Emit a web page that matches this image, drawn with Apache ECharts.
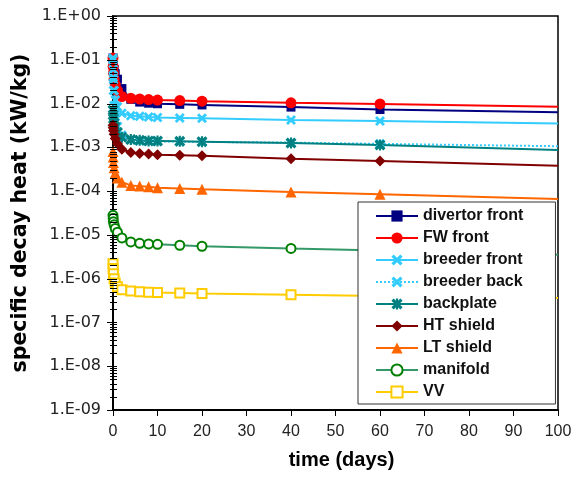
<!DOCTYPE html>
<html>
<head>
<meta charset="utf-8">
<script src="https://cdn.jsdelivr.net/npm/echarts@6/dist/echarts.min.js"></script>
<style>
html,body{margin:0;padding:0;background:#fff;}
#chart{width:585px;height:480px;}
</style>
</head>
<body>
<div id="chart"></div>
<script>
// ---- data (time in days, specific decay heat in kW/kg) ----
var times = [0, 0.04, 0.1, 0.25, 0.5, 1, 2, 4, 6, 8, 10, 15, 20, 40, 60, 100];
var divertorFront = [0.11, 0.09, 0.075, 0.06, 0.048, 0.036, 0.022, 0.0125, 0.0108, 0.0102, 0.0099, 0.0096, 0.0093, 0.0083, 0.0073, 0.0063];
var fwFront = [0.11, 0.07, 0.05, 0.036, 0.027, 0.02, 0.0145, 0.0132, 0.0127, 0.0123, 0.012, 0.0117, 0.0113, 0.0104, 0.0098, 0.0084];
var breederFront = [0.11, 0.06, 0.035, 0.02, 0.012, 0.0085, 0.006, 0.0053, 0.0051, 0.0049, 0.0048, 0.0047, 0.0046, 0.0042, 0.004, 0.0035];
var breederBack = [0.1, 0.04, 0.02, 0.009, 0.005, 0.003, 0.0019, 0.0015, 0.0014, 0.00138, 0.00136, 0.00135, 0.00133, 0.00128, 0.0012, 0.00106];
var backplate = [0.007, 0.0055, 0.0045, 0.0036, 0.0029, 0.0022, 0.0017, 0.0015, 0.00145, 0.0014, 0.0014, 0.00138, 0.00135, 0.00125, 0.00113, 0.00087];
var htShield = [0.0032, 0.0028, 0.0024, 0.002, 0.0016, 0.0012, 0.0009, 0.00076, 0.00072, 0.0007, 0.00068, 0.00066, 0.00064, 0.00055, 0.00049, 0.00038];
var ltShield = [0.0008, 0.0006, 0.00045, 0.00034, 0.00026, 0.0002, 0.00016, 0.000135, 0.00013, 0.000125, 0.00012, 0.000115, 0.00011, 0.000095, 0.000085, 0.000066];
var manifold = [2.8e-5, 2.4e-5, 2.0e-5, 1.7e-5, 1.4e-5, 1.15e-5, 8.5e-6, 6.9e-6, 6.4e-6, 6.2e-6, 6.1e-6, 5.8e-6, 5.5e-6, 4.9e-6, 4.4e-6, 3.5e-6];
var vv = [2.2e-6, 1.7e-6, 1.3e-6, 1.0e-6, 8e-7, 6.5e-7, 5.6e-7, 5.2e-7, 5.0e-7, 4.9e-7, 4.8e-7, 4.7e-7, 4.6e-7, 4.3e-7, 4.0e-7, 3.6e-7];
var seriesNames = ['divertor front', 'FW front', 'breeder front', 'breeder back', 'backplate', 'HT shield', 'LT shield', 'manifold', 'VV'];
var xTicks = [0, 10, 20, 30, 40, 50, 60, 70, 80, 90, 100];
var yMinExp = -9, yMaxExp = 0;

// ---- styling ----
var X_PATH = 'path://M0,2 L2,0 L5,3 L8,0 L10,2 L7,5 L10,8 L8,10 L5,7 L2,10 L0,8 L3,5 Z';
var STAR_PATH = 'path://M0,2 L2,0 L5,3 L8,0 L10,2 L7,5 L10,8 L8,10 L5,7 L2,10 L0,8 L3,5 Z M4,0 L6,0 L6,10 L4,10 Z';
var styles = [
  {line: '#000080', item: '#000080', symbol: 'rect', size: 9, empty: false},
  {line: '#ff0000', item: '#ff0000', symbol: 'circle', size: 11, empty: false},
  {line: '#33ccff', item: '#33ccff', symbol: X_PATH, size: 10, empty: false},
  {line: '#33ccff', item: '#33ccff', symbol: X_PATH, size: 10, empty: false, dotted: true},
  {line: '#008080', item: '#008080', symbol: STAR_PATH, size: 11, empty: false},
  {line: '#800000', item: '#800000', symbol: 'diamond', size: 11, empty: false},
  {line: '#ff6600', item: '#ff6600', symbol: 'triangle', size: 11, empty: false},
  {line: '#339966', item: '#008000', symbol: 'emptyCircle', size: 9, empty: true},
  {line: '#ffcc00', item: '#ffcc00', symbol: 'emptyRect', size: 9, empty: true}
];
var allData = [divertorFront, fwFront, breederFront, breederBack, backplate, htShield, ltShield, manifold, vv];

function buildData(vals) {
  return times.map(function (t, i) {
    var item = {value: [t, vals[i]]};
    if (t === xTicks[xTicks.length - 1]) item.symbol = 'none';
    return item;
  });
}

var series = allData.map(function (vals, k) {
  var s = styles[k];
  return {
    name: seriesNames[k],
    type: 'line',
    data: buildData(vals),
    symbol: s.symbol,
    symbolSize: s.size,
    showAllSymbol: true,
    clip: true,
    lineStyle: {color: s.line, width: 2, type: s.dotted ? 'dotted' : 'solid'},
    itemStyle: s.empty ? {color: s.item, borderColor: s.item, borderWidth: 2} : {color: s.item, borderWidth: 0},
    emphasis: {disabled: true}
  };
});

// minor / crossing ticks on the log axis
var tickVals = [];
for (var e = yMinExp; e <= yMaxExp; e++) {
  tickVals.push([0, Math.pow(10, e), 1]);
  if (e < yMaxExp) for (var m = 2; m <= 9; m++) tickVals.push([0, m * Math.pow(10, e), 0]);
}
series.push({
  type: 'custom',
  name: 'ticks',
  silent: true,
  clip: false,
  z: 5,
  data: tickVals,
  renderItem: function (params, api) {
    var p = api.coord([api.value(0), api.value(1)]);
    var major = api.value(2) === 1;
    return {
      type: 'line',
      shape: {x1: p[0] - (major ? 6 : 3), y1: Math.round(p[1]) + 0.5, x2: p[0] + 4, y2: Math.round(p[1]) + 0.5},
      style: {stroke: '#000', lineWidth: 1}
    };
  }
});

var chart = echarts.init(document.getElementById('chart'), null, {renderer: 'canvas'});
chart.setOption({
  animation: false,
  backgroundColor: '#fff',
  grid: {left: 113, right: 27, top: 16, bottom: 70, show: true, borderColor: '#000', borderWidth: 1.5, backgroundColor: 'transparent'},
  xAxis: {
    type: 'value', min: xTicks[0], max: xTicks[xTicks.length - 1], interval: 10,
    name: 'time (days)', nameLocation: 'middle', nameGap: 40,
    nameTextStyle: {fontFamily: 'Liberation Sans', fontWeight: 'bold', fontSize: 20, color: '#000', padding: [0, 0, 0, 12]},
    axisLine: {lineStyle: {color: '#000', width: 2}},
    axisTick: {show: true, length: 6, lineStyle: {color: '#000', width: 1}},
    axisLabel: {fontFamily: 'Liberation Sans', fontSize: 16, color: '#222', margin: 14},
    splitLine: {show: false}
  },
  yAxis: {
    type: 'log', logBase: 10, min: Math.pow(10, yMinExp), max: Math.pow(10, yMaxExp), splitNumber: 9,
    name: 'specific decay heat (kW/kg)', nameLocation: 'middle', nameGap: 76, nameRotate: 90,
    nameTextStyle: {fontFamily: 'DejaVu Sans', fontWeight: 'bold', fontSize: 20.5, color: '#000', lineHeight: 20},
    axisLine: {lineStyle: {color: '#000', width: 2}},
    axisTick: {show: false},
    axisLabel: {
      fontFamily: 'DejaVu Sans', fontSize: 16, color: '#222', margin: 12,
      formatter: function (v) {
        var ex = Math.round(Math.log10(v));
        var a = Math.abs(ex);
        return '1.E' + (ex >= 0 ? '+' : '-') + (a < 10 ? '0' : '') + a;
      }
    },
    splitLine: {show: false}
  },
  legend: {
    data: seriesNames,
    orient: 'vertical',
    left: 358, top: 202,
    padding: [6, 32, 4, 17],
    itemGap: 6,
    itemWidth: 42,
    itemHeight: 14,
    selectedMode: false,
    backgroundColor: '#fff',
    borderColor: '#333',
    borderWidth: 1,
    textStyle: {fontFamily: 'Liberation Sans', fontWeight: 'bold', fontSize: 16, color: '#111', lineHeight: 16}
  },
  series: series
});
</script>
</body>
</html>
